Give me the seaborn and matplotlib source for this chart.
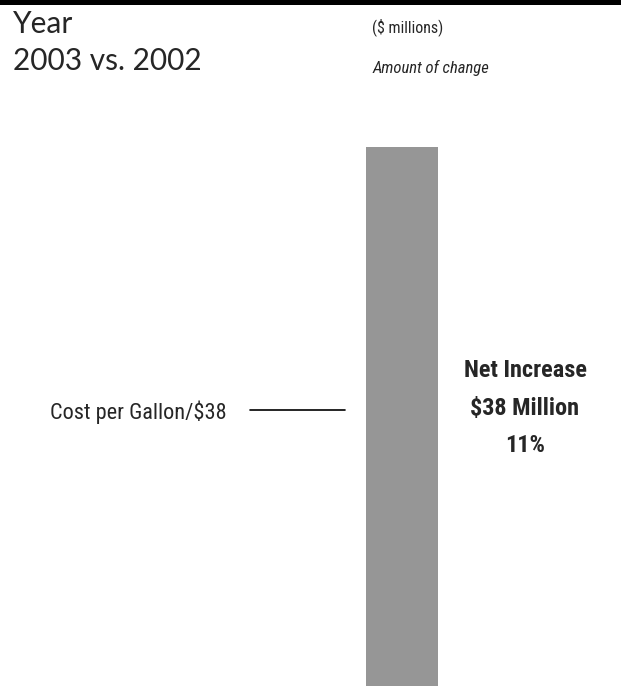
import matplotlib
matplotlib.use("Agg")
import matplotlib.pyplot as plt
from matplotlib import font_manager
from matplotlib.lines import Line2D
from matplotlib.patches import Rectangle
import pandas as pd
import seaborn as sns

# Data
categories = ["Cost per Gallon"]
values = [38]            # $ millions
net_increase = 38        # $ millions
pct_change = 11          # percent

title_lines = ["Year", "2003 vs. 2002"]
unit_label = "($ millions)"
sub_label = "Amount of change"

W, H = 621, 687
DPI = 100

sns.set_theme(style="white")
installed = {f.name for f in font_manager.fontManager.ttflist}


def pick(*names):
    fams = [n for n in names if n in installed]
    return fams + ["DejaVu Sans"]


narrow = pick("Roboto Condensed", "Liberation Sans Narrow", "DejaVu Sans")
geo = pick("Lato", "Open Sans", "DejaVu Sans")
plt.rcParams["font.family"] = narrow

fig = plt.figure(figsize=(W / DPI, H / DPI), dpi=DPI)
fig.patch.set_facecolor("white")


def px(x, y):
    """Pixel position (from top-left) to figure fraction."""
    return x / W, 1 - y / H


# Bar axes: spans the bar's pixel box, value axis from 0 to the bar value
bx0, bx1, by0, by1 = 366, 438, 147, 686
ax = fig.add_axes([bx0 / W, 1 - by1 / H, (bx1 - bx0) / W, (by1 - by0) / H])
df = pd.DataFrame({"category": categories, "value": values})
sns.barplot(data=df, x="category", y="value", color="#969696", width=1.0,
            saturation=1, edgecolor="none", ax=ax)
ax.set_xlim(-0.5, 0.5)
ax.set_ylim(0, max(values))
ax.axis("off")

# Top rule
fig.add_artist(Rectangle((0, 1 - 5 / H), 1, 5 / H, transform=fig.transFigure,
                         facecolor="black", edgecolor="none"))

# Header text
fig.text(*px(13, 33), title_lines[0], fontsize=21.5, family=geo, va="baseline", ha="left")
fig.text(*px(13, 70), title_lines[1], fontsize=21.5, family=geo, va="baseline", ha="left")
fig.text(*px(372, 32), unit_label, fontsize=11.5, va="baseline", ha="left")
fig.text(*px(373, 73), sub_label, fontsize=12, style="italic", va="baseline", ha="left")

# Segment label with leader line
fig.text(*px(227, 419), f"{categories[0]}/${values[0]}", fontsize=16,
         va="baseline", ha="right")
fig.add_artist(Line2D([250 / W, 345 / W], [1 - 410 / H, 1 - 410 / H],
                      transform=fig.transFigure, color="black", linewidth=1.2))

# Net change summary
summary = ["Net Increase", f"${net_increase} Million", f"{pct_change}%"]
for line, base in zip(summary, [377, 415, 452]):
    fig.text(*px(525, base), line, fontsize=17.5, fontweight="bold",
             va="baseline", ha="center")

fig.savefig("out.png", dpi=DPI, facecolor="white")
